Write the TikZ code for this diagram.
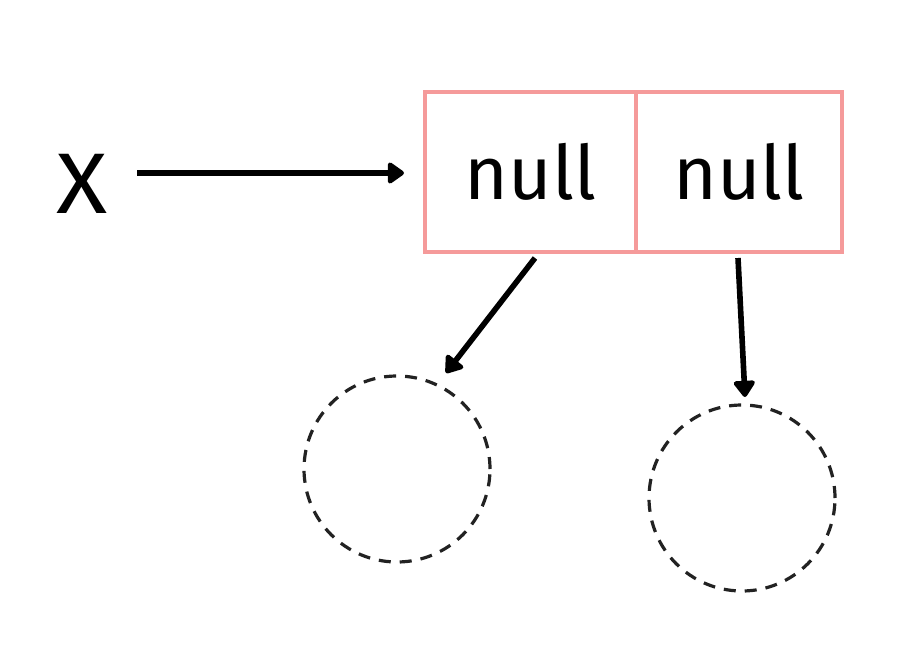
\documentclass[tikz,border=0pt]{standalone}
\usepackage{fontspec}
\setmainfont{Fira Sans}
\usetikzlibrary{arrows.meta}
\definecolor{boxred}{HTML}{F59A9A}
\definecolor{dashgray}{HTML}{222222}
\begin{document}
\begin{tikzpicture}[x=1pt,y=-1pt,
  cell/.style={draw=boxred,line width=3.4pt,minimum height=160pt,inner sep=0pt,font=\fontsize{75}{80}\selectfont},
  ghost/.style={circle,draw=dashgray,line width=3.2pt,dash pattern=on 12pt off 9pt,minimum size=186pt,inner sep=0pt},
  ptr/.style={line width=5.6pt,-{Triangle[width=24pt,length=18pt,round]}}]
\useasboundingbox[fill=white] (0,0) rectangle (900,650);
\node[cell,minimum width=211pt] (l) at (530.5,172) {null};
\node[cell,minimum width=206pt] (r) at (739,172) {\raisebox{-3pt}{null}};
\node[font=\fontsize{86}{90}\selectfont,xscale=1.1] (x) at (82,184) {X};
\node[ghost] (c1) at (397,469) {};
\node[ghost] (c2) at (742,498) {};
\coordinate (s1) at (535,258);
\coordinate (t1) at (446,373);
\coordinate (s2) at (738,258);
\coordinate (t2) at (745,397);
\coordinate (a0) at (137,173);
\coordinate (a1) at (404,173);
\draw[ptr] (a0) -- (a1);
\draw[ptr] (s1) -- (t1);
\draw[ptr] (s2) -- (t2);
\end{tikzpicture}
\end{document}
